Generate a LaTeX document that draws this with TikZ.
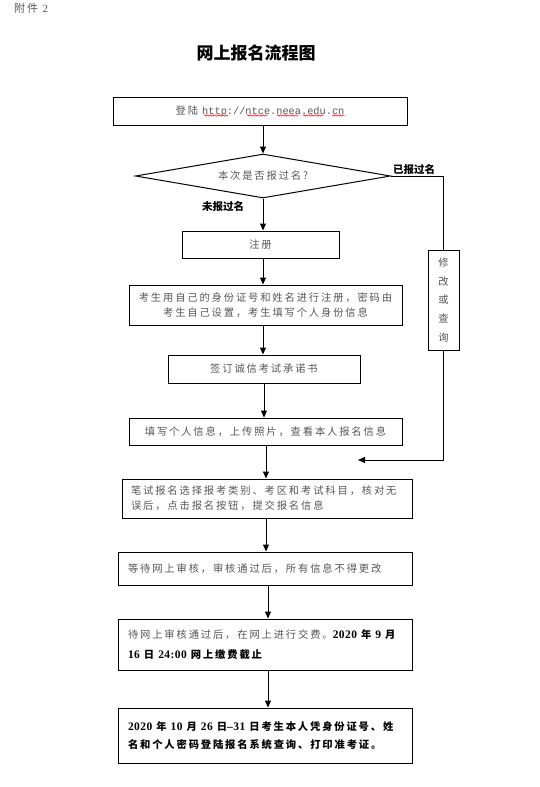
\documentclass[tikz,border=0pt]{standalone}
\usepackage{fontspec}
\setmainfont{Liberation Serif}
\newfontfamily\cjk[LetterSpace=18]{Noto Sans CJK SC}
\newfontfamily\cjkt{Noto Sans CJK SC}
\newfontfamily\urlfont{Liberation Mono}
\newfontfamily\digfont[LetterSpace=4]{Liberation Serif}
\newcommand\dg[1]{{\digfont\bfseries\fontsize{11.5}{12}\selectfont #1}}
\newcommand\gapsp{\hspace{4pt}}
\usetikzlibrary{arrows.meta,shapes.geometric,decorations.pathmorphing}
\definecolor{txtgray}{RGB}{85,85,85}
\tikzset{
  box/.style={draw, line width=1pt, inner sep=0pt, text=txtgray,
    font=\cjk\fontsize{10.3}{15}\selectfont},
  lbox/.style={box, align=left, inner xsep=10pt},
  arr/.style={-{Triangle[length=7pt,width=6pt]}, line width=1pt},
  ln/.style={line width=1pt},
  lab/.style={font=\cjkt\bfseries\fontsize{10.5}{12}\selectfont, inner sep=0pt},
  wavy/.style={red, line width=0.45pt, decorate,
    decoration={snake, amplitude=0.7pt, segment length=2.6pt}}
}
\begin{document}
\begin{tikzpicture}[x=1pt,y=-1pt]
\useasboundingbox (0,0) rectangle (540,787);

\node[anchor=west, inner sep=0pt, text=txtgray, font=\cjk\fontsize{11}{12}\selectfont] (fj) at (14,8) {附件 {\digfont 2}};
\node[inner sep=0pt, font=\cjkt\bfseries\fontsize{17}{20}\selectfont] (title) at (256,53.5) {网上报名流程图};

% boxes
\node[box, minimum width=294pt, minimum height=28pt] (b1) at (260,111)
  {登陆 {\urlfont http://ntce.neea.edu.cn}};
\node[draw, diamond, line width=1pt, aspect=5.8, minimum width=255pt, minimum height=44pt,
  inner sep=0pt, text=txtgray, font=\cjk\fontsize{10.3}{15}\selectfont] (dia) at (263,176) {本次是否报过名?};
\node[box, minimum width=157pt, minimum height=27pt] (b2) at (260.5,244.5) {注册};
\node[box, minimum width=273pt, minimum height=40pt, align=center] (b3) at (265.5,305)
  {考生用自己的身份证号和姓名进行注册，密码由\\考生自己设置，考生填写个人身份信息};
\node[box, minimum width=192pt, minimum height=28pt] (b4) at (264,369) {签订诚信考试承诺书};
\node[box, minimum width=273pt, minimum height=27pt] (b5) at (265.5,431.5)
  {填写个人信息，上传照片，查看本人报名信息};
\node[lbox, inner xsep=9pt, text width=272pt, minimum height=39pt] (b6) at (267,498.5)
  {笔试报名选择报考类别、考区和考试科目，核对无\\误后，点击报名按钮，提交报名信息};
\node[lbox, text width=274pt, minimum height=33pt] (b7) at (265,568.5)
  {等待网上审核，审核通过后，所有信息不得更改};
\node[lbox, text width=274pt, minimum height=51pt, font=\cjk\fontsize{10.3}{20}\selectfont] (b8) at (265,644.5)
  {待网上审核通过后，在网上进行交费。{\color{black}\bfseries\dg{2020}\gapsp 年\gapsp\dg{9}\gapsp 月}\\
   {\color{black}\bfseries\dg{16}\gapsp 日\gapsp\dg{24:00}\gapsp 网上缴费截止}};
\node[lbox, text width=274pt, minimum height=55pt, text=black, font=\cjk\bfseries\fontsize{10.3}{18}\selectfont] (b9) at (265,735.5)
  {\dg{2020}\gapsp 年\gapsp\dg{10}\gapsp 月\gapsp\dg{26}\gapsp 日\dg{–31}\gapsp 日考生本人凭身份证号、姓\\名和个人密码登陆报名系统查询、打印准考证。};
\node[draw, line width=1pt, minimum width=31pt, minimum height=100pt, inner sep=0pt, align=center,
  text=txtgray, font=\cjk\fontsize{10.3}{18.75}\selectfont] (b10) at (443.5,300) {修\\改\\或\\查\\询};

% labels
\node[lab] (l1) at (414,169) {已报过名};
\node[lab] (l2) at (223,206) {未报过名};

% connectors
\coordinate (xa) at (263,0);
\coordinate (xb) at (264,0);
\coordinate (xc) at (266,0);
\coordinate (xd) at (268,0);
\coordinate (m) at (358,460);
\draw[arr] (b1.south -| dia.north) -- (dia.north);
\draw[arr] (dia.south -| xa) -- (b2.north -| xa);
\draw[arr] (b2.south -| xa) -- (b3.north -| xa);
\draw[arr] (b3.south -| xa) -- (b4.north -| xa);
\draw[arr] (b4.south -| xb) -- (b5.north -| xb);
\draw[arr] (b5.south -| xc) -- (b6.north -| xc);
\draw[arr] (b6.south -| xc) -- (b7.north -| xc);
\draw[arr] (b7.south -| xd) -- (b8.north -| xd);
\draw[arr] (b8.south -| xd) -- (b9.north -| xd);
\draw[ln] (dia.east) -| (b10.north);
\draw[arr] (b10.south) |- (m);

% spell-check underlines
\draw[wavy] (204,115.5) -- (228,115.5);
\draw[wavy] (247,115.5) -- (268,115.5);
\draw[wavy] (277,115.5) -- (299,115.5);
\draw[wavy] (303,115.5) -- (324,115.5);
\draw[wavy] (332,115.5) -- (345,115.5);
\end{tikzpicture}
\end{document}
